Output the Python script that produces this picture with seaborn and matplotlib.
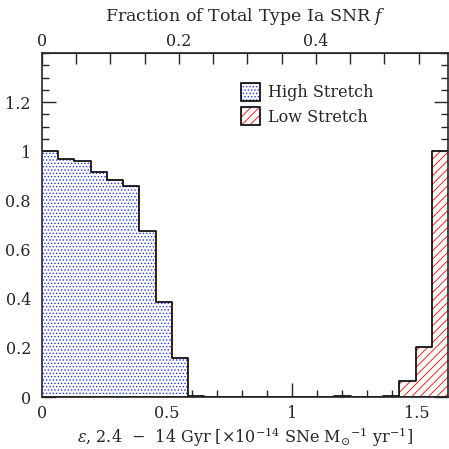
import numpy as np
import pandas as pd
import matplotlib
matplotlib.use("Agg")
import matplotlib.pyplot as plt
from matplotlib.ticker import MultipleLocator, FuncFormatter
from matplotlib.patches import Patch
import seaborn as sns

# ---- data ----
bin_edges = [round(i * 0.065, 4) for i in range(26)]          # 25 bins, 0 .. 1.625
high_stretch = [1.0, 0.967, 0.96, 0.915, 0.885, 0.858, 0.676, 0.385, 0.157, 0.004,
                0, 0, 0, 0, 0, 0, 0, 0, 0.003, 0, 0, 0.003, 0, 0, 0]
low_stretch = [0, 0, 0, 0, 0, 0, 0, 0, 0, 0,
               0, 0, 0, 0, 0, 0, 0, 0, 0, 0, 0, 0, 0.066, 0.202, 1.0]
bottom_ticks = [0, 0.5, 1, 1.5]
left_ticks = [0, 0.2, 0.4, 0.6, 0.8, 1, 1.2]
top_ticks = [0, 0.2, 0.4]
eps_per_f = 2.74  # conversion epsilon -> fraction f

sns.set_style("ticks")
plt.rcParams['font.family'] = ['DejaVu Serif']
plt.rcParams['mathtext.fontset'] = 'dejavuserif'
plt.rcParams['hatch.linewidth'] = 0.6

edges = np.array(bin_edges)
centers = (edges[:-1] + edges[1:]) / 2
df_hi = pd.DataFrame({"eps": centers, "w": high_stretch})
df_lo = pd.DataFrame({"eps": centers, "w": low_stretch})

fig = plt.figure(figsize=(4.49, 4.49), dpi=100)
ax = fig.add_axes([42/449, 52/449, 406/449, 344/449])

sns.histplot(data=df_hi, x="eps", weights="w", bins=bin_edges, element="bars",
             fill=True, facecolor="white", edgecolor="#2233ff", linewidth=0,
             hatch=".....", ax=ax)
sns.histplot(data=df_lo, x="eps", weights="w", bins=bin_edges, element="bars",
             fill=True, facecolor="white", edgecolor="red", linewidth=0,
             hatch="////", ax=ax)
sns.histplot(data=df_hi, x="eps", weights="w", bins=bin_edges, element="step",
             fill=False, color="black", linewidth=1.2, ax=ax)
sns.histplot(data=df_lo, x="eps", weights="w", bins=bin_edges, element="step",
             fill=False, color="black", linewidth=1.2, ax=ax)

ax.set_xlim(0, 1.625)
ax.set_ylim(0, 1.4)
ax.set_ylabel("")
ax.set_xlabel(r"$\epsilon$, 2.4  $-$  14 Gyr [$\times$10$^{-14}$ SNe M$_{\odot}$$^{-1}$ yr$^{-1}$]",
              fontsize=11.5, labelpad=2)

fmt = FuncFormatter(lambda v, p: ("%g" % v))
ax.set_xticks(bottom_ticks)
ax.xaxis.set_minor_locator(MultipleLocator(0.1))
ax.set_yticks(left_ticks)
ax.yaxis.set_minor_locator(MultipleLocator(0.05))
ax.xaxis.set_major_formatter(fmt)
ax.yaxis.set_major_formatter(fmt)
ax.tick_params(which="both", direction="in", top=False, right=True, labelsize=11.5)
ax.tick_params(axis="x", which="both", pad=6)
ax.tick_params(axis="y", which="both", pad=8)
ax.tick_params(which="major", length=10, width=1)
ax.tick_params(which="minor", length=5, width=1)
for s in ax.spines.values():
    s.set_linewidth(1.2)

sec = ax.secondary_xaxis("top", functions=(lambda x: x / eps_per_f, lambda f: f * eps_per_f))
sec.set_xticks(top_ticks)
sec.xaxis.set_minor_locator(MultipleLocator(0.05))
sec.xaxis.set_major_formatter(fmt)
sec.tick_params(which="both", direction="in", labelsize=11.5, pad=2)
sec.tick_params(which="major", length=8, width=1)
sec.tick_params(which="minor", length=8, width=1)
sec.set_xlabel("Fraction of Total Type Ia SNR $f$", fontsize=12.5, labelpad=9)

h_hi = (Patch(facecolor="white", edgecolor="#2233ff", hatch=".....", linewidth=0),
        Patch(facecolor="none", edgecolor="black", linewidth=1.2))
h_lo = (Patch(facecolor="white", edgecolor="red", hatch="////", linewidth=0),
        Patch(facecolor="none", edgecolor="black", linewidth=1.2))
leg = ax.legend([h_hi, h_lo], ["High Stretch", "Low Stretch"], loc="upper left",
                bbox_to_anchor=(0.455, 0.955), frameon=False, fontsize=11.5,
                handlelength=1.2, handleheight=1.4, handletextpad=0.5, labelspacing=0.35)

fig.savefig("out.png", dpi=100)
